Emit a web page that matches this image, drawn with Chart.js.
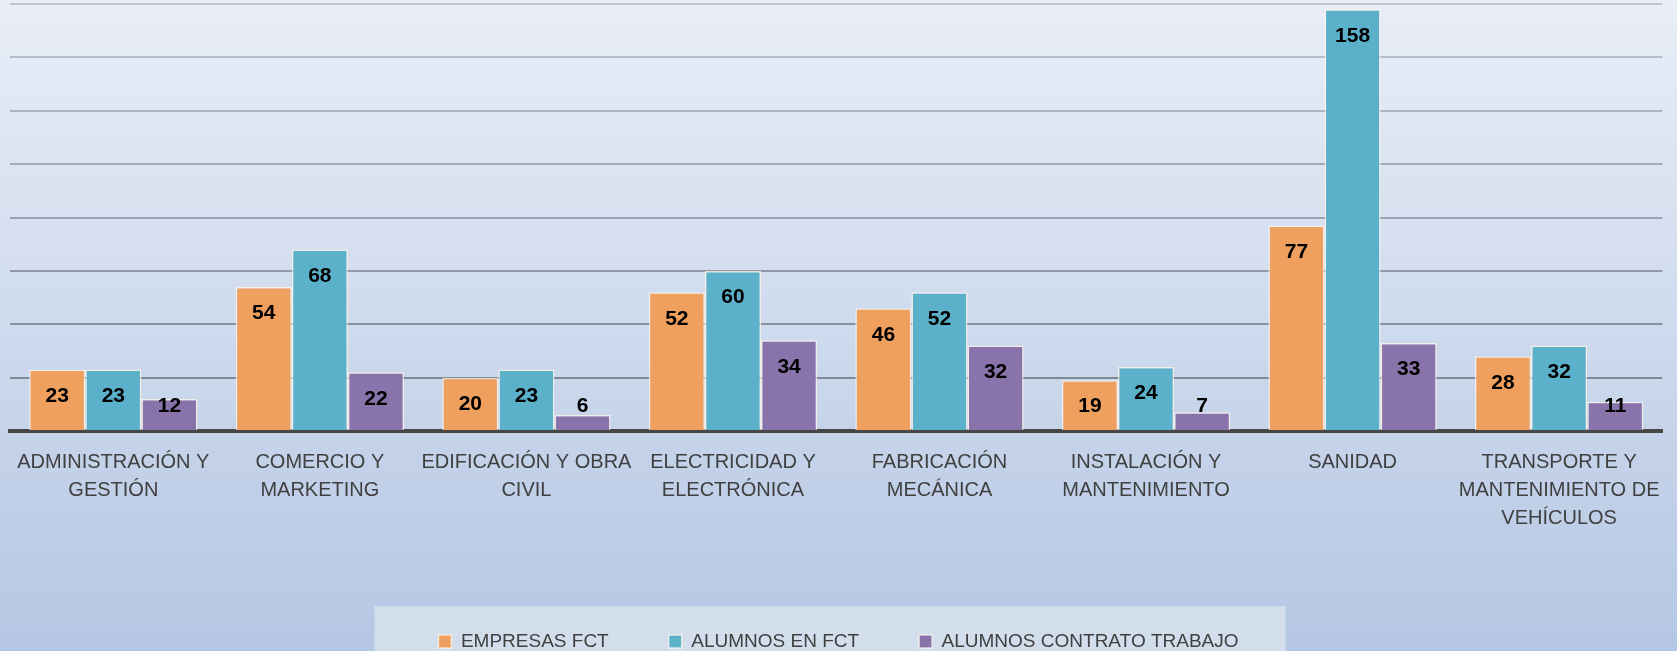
<!DOCTYPE html>
<html lang="es">
<head>
<meta charset="utf-8">
<title>FCT por familia profesional</title>
<script src="https://cdn.jsdelivr.net/npm/chart.js@4.4.1/dist/chart.umd.min.js"></script>
<style>
    html, body { margin: 0; padding: 0; overflow: hidden; background: #b4c7e3; }
    canvas { display: block; }
</style>
</head>
<body>
<canvas id="grafico-fct" width="1677" height="661"></canvas>
<script>
// Familias profesionales (etiquetas en varias lineas como en el original)
const familias = [
    ["ADMINISTRACIÓN Y", "GESTIÓN"],
    ["COMERCIO Y", "MARKETING"],
    ["EDIFICACIÓN Y OBRA", "CIVIL"],
    ["ELECTRICIDAD Y", "ELECTRÓNICA"],
    ["FABRICACIÓN", "MECÁNICA"],
    ["INSTALACIÓN Y", "MANTENIMIENTO"],
    ["SANIDAD"],
    ["TRANSPORTE Y", "MANTENIMIENTO DE", "VEHÍCULOS"]
];
const empresasFct = [23, 54, 20, 52, 46, 19, 77, 28];
const alumnosFct = [23, 68, 23, 60, 52, 24, 158, 32];
const alumnosContrato = [12, 22, 6, 34, 32, 7, 33, 11];
const ejeMin = 0;
const ejeMax = 160;
const ejePaso = 20;

const colores = {
    empresas: "rgb(240, 160, 94)",
    alumnos: "rgb(91, 177, 202)",
    contrato: "rgb(136, 115, 170)",
};

// fondo degradado + recuadro de la leyenda
const fondo = {
    id: "fondo",
    beforeDraw(chart) {
        const { ctx, width, height } = chart;
        const grad = ctx.createLinearGradient(0, 0, 0, height);
        grad.addColorStop(0, "#e9eef7");
        grad.addColorStop(1, "#b3c6e3");
        ctx.save();
        ctx.fillStyle = grad;
        ctx.fillRect(0, 0, width, height);
        const leg = chart.legend;
        if (leg && leg.legendHitBoxes && leg.legendHitBoxes.length) {
            const cajas = leg.legendHitBoxes;
            const ult = cajas[cajas.length - 1];
            const izq = cajas[0].left - 64;
            const der = ult.left + ult.width + 47;
            ctx.fillStyle = "#d3deec";
            ctx.fillRect(izq, leg.top + 34, der - izq, height);
        }
        ctx.restore();
    }
};

// etiquetas de valor dentro del extremo de la barra
const etiquetas = {
    id: "etiquetas",
    afterDatasetsDraw(chart) {
        const ctx = chart.ctx;
        ctx.save();
        ctx.font = "bold 21px 'Liberation Sans', Arial, sans-serif";
        ctx.fillStyle = "#000";
        ctx.textAlign = "center";
        ctx.textBaseline = "middle";
        chart.data.datasets.forEach((ds, i) => {
            const meta = chart.getDatasetMeta(i);
            meta.data.forEach((bar, j) => {
                const y = Math.min(bar.y + 26.5, bar.base - 24);
                ctx.fillText(String(ds.data[j]), bar.x, y);
            });
        });
        ctx.restore();
    }
};

const colorRejilla = (c) => {
    const v = c.tick ? c.tick.value : 0;
    const t = (v - ejeMin) / (ejeMax - ejeMin);
    const r = Math.round(118 + t * 72);
    const g = Math.round(128 + t * 70);
    const b = Math.round(142 + t * 68);
    return `rgb(${r}, ${g}, ${b})`;
};

const fuente = "'Liberation Sans', Arial, sans-serif";
const borde = "rgba(255, 244, 232, 0.75)";

const ctx = document.getElementById("grafico-fct").getContext("2d");
new Chart(ctx, {
    type: "bar",
    data: {
        labels: familias,
        datasets: [
            {
                label: "EMPRESAS FCT",
                data: empresasFct,
                backgroundColor: colores.empresas,
                borderColor: borde,
                borderWidth: 1.5,
            },
            {
                label: "ALUMNOS EN FCT",
                data: alumnosFct,
                backgroundColor: colores.alumnos,
                borderColor: borde,
                borderWidth: 1.5,
            },
            {
                label: "ALUMNOS CONTRATO TRABAJO",
                data: alumnosContrato,
                backgroundColor: colores.contrato,
                borderColor: borde,
                borderWidth: 1.5,
            },
        ],
    },
    options: {
        responsive: false,
        animation: false,
        devicePixelRatio: 1,
        layout: {
            padding: { top: 4, left: 9, right: 9, bottom: 0 },
        },
        datasets: {
            bar: {
                categoryPercentage: 0.815,
                barPercentage: 1,
            },
        },
        scales: {
            x: {
                grid: { display: false, drawTicks: false },
                border: { display: true, color: "#474747", width: 4 },
                ticks: {
                    padding: 17,
                    color: "#404040",
                    font: { family: fuente, size: 20, lineHeight: 1.4 },
                    maxRotation: 0,
                    autoSkip: false,
                },
                afterFit: (escala) => { escala.height = 141; },
            },
            y: {
                min: ejeMin,
                max: ejeMax,
                ticks: { display: false, stepSize: ejePaso },
                grid: { color: colorRejilla, lineWidth: 2, drawTicks: false },
                border: { display: false },
            },
        },
        plugins: {
            legend: {
                position: "bottom",
                labels: {
                    boxWidth: 13,
                    boxHeight: 13,
                    padding: 60,
                    color: "#404040",
                    font: { family: fuente, size: 19 },
                },
            },
            tooltip: { enabled: false },
        },
    },
    plugins: [fondo, etiquetas],
});
</script>
</body>
</html>
